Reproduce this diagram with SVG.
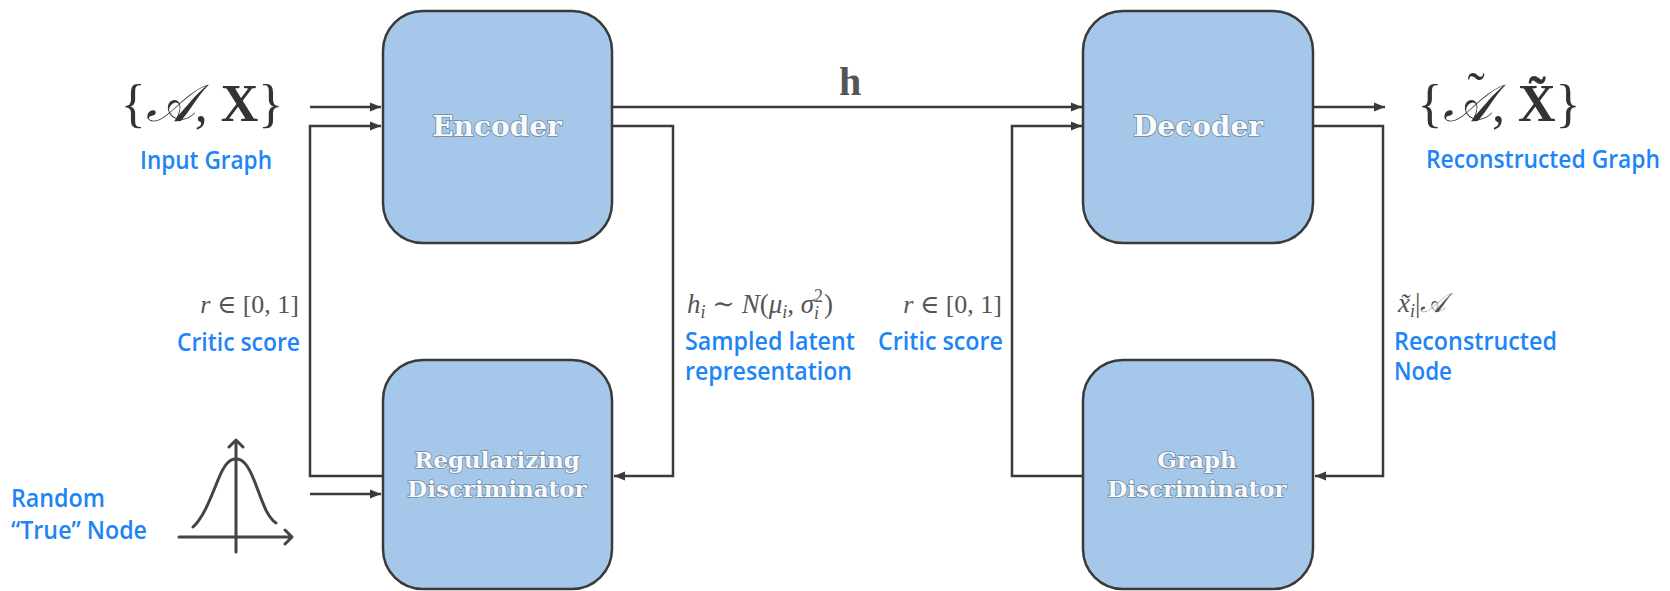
<svg xmlns="http://www.w3.org/2000/svg" width="1670" height="591" viewBox="0 0 1670 591">
<style>
.box{fill:#a5c8ea;stroke:#3a3a3a;stroke-width:2.5}
.nl{font-family:"DejaVu Serif",serif;font-weight:bold;fill:#f8fafc;stroke:#6d88a2;stroke-width:1.6;paint-order:stroke;text-anchor:middle}
.blue{font-family:"Open Sans","Noto Sans",sans-serif;font-weight:600;font-size:24.5px;fill:#1e85f6}
.math{font-family:"Liberation Serif","DejaVu Serif",serif;fill:#555}
.big{font-family:"Liberation Serif","DejaVu Serif",serif;fill:#333;font-size:52px}
.conn{fill:none;stroke:#3a3a3a;stroke-width:2.5}
.icon{fill:none;stroke:#444;stroke-width:3;stroke-linecap:round;stroke-linejoin:round}
</style>
<defs>
<marker id="ah" markerUnits="userSpaceOnUse" markerWidth="11" markerHeight="10" refX="11" refY="5" orient="auto">
<path d="M0,0.5 L11,5 L0,9.5 z" fill="#3a3a3a"/>
</marker>
</defs>
<rect width="1670" height="591" fill="#ffffff"/>

<g id="connectors">
<path class="conn" d="M310,107 H381" marker-end="url(#ah)"/>
<path class="conn" d="M383,476 H310 V126 H381" marker-end="url(#ah)"/>
<path class="conn" d="M310,494 H381" marker-end="url(#ah)"/>
<path class="conn" d="M612,126 H673 V476 H614" marker-end="url(#ah)"/>
<path class="conn" d="M612,107 H1082" marker-end="url(#ah)"/>
<path class="conn" d="M1083,476 H1012 V126 H1082" marker-end="url(#ah)"/>
<path class="conn" d="M1313,126 H1383 V476 H1315" marker-end="url(#ah)"/>
<path class="conn" d="M1313,107 H1385" marker-end="url(#ah)"/>
</g>

<g id="encoder">
<rect class="box" x="383" y="11" width="229" height="232" rx="40"/>
<text class="nl" x="497" y="136" font-size="28">Encoder</text>
</g>
<g id="decoder">
<rect class="box" x="1083" y="11" width="230" height="232" rx="40"/>
<text class="nl" x="1198" y="136" font-size="28">Decoder</text>
</g>
<g id="regularizing-discriminator">
<rect class="box" x="383" y="360" width="229" height="229" rx="40"/>
<text class="nl" x="497" y="468" font-size="23">Regularizing</text>
<text class="nl" x="497" y="497" font-size="23">Discriminator</text>
</g>
<g id="graph-discriminator">
<rect class="box" x="1083" y="360" width="230" height="229" rx="40"/>
<text class="nl" x="1197" y="468" font-size="23">Graph</text>
<text class="nl" x="1197" y="497" font-size="23">Discriminator</text>
</g>

<g id="input-graph">
<text class="big" x="202" y="121" text-anchor="middle">{<tspan font-style="italic">𝒜</tspan>, <tspan font-weight="bold">X</tspan>}</text>
<text class="blue" x="140" y="169" textLength="132" lengthAdjust="spacingAndGlyphs">Input Graph</text>
</g>

<g id="reconstructed-graph">
<text class="big" x="1499" y="121" text-anchor="middle">{<tspan font-style="italic">𝒜</tspan><tspan dx="-24" dy="-12">˜</tspan><tspan dx="7" dy="12">, </tspan><tspan font-weight="bold">X̃</tspan>}</text>
<text class="blue" x="1426" y="168" font-size="22" textLength="234" lengthAdjust="spacingAndGlyphs">Reconstructed Graph</text>
</g>

<g id="random-true-node">
<path class="icon" d="M236,552 V440 M229,447 L236,440 L243,447 M179,537 H292 M285,530 L292,537 L285,544"/>
<path class="icon" d="M193,527 C203,518 210,500 218,480 C224,465 229,459 236,459 C243,459 248,465 254,480 C262,500 266,516 276,523"/>
<text class="blue" x="11" y="507" textLength="94" lengthAdjust="spacingAndGlyphs">Random</text>
<text class="blue" x="11" y="539" textLength="136" lengthAdjust="spacingAndGlyphs">“True” Node</text>
</g>

<g id="labels">
<text class="math" x="850" y="95" font-size="40" font-weight="bold" fill="#333" text-anchor="middle">h</text>
<text class="math" x="299" y="313" font-size="26" text-anchor="end"><tspan font-style="italic">r</tspan> ∈ [0, 1]</text>
<text class="blue" x="177" y="351" textLength="123" lengthAdjust="spacingAndGlyphs">Critic score</text>
<text class="math" x="687" y="313" font-size="27"><tspan font-style="italic">h</tspan><tspan font-size="18" font-style="italic" dy="5">i</tspan><tspan dy="-5"> ∼ </tspan><tspan font-style="italic">N</tspan>(<tspan font-style="italic">μ</tspan><tspan font-size="18" font-style="italic" dy="5">i</tspan><tspan dy="-5">, </tspan><tspan font-style="italic">σ</tspan><tspan font-size="18" dy="-11">2</tspan><tspan font-size="18" font-style="italic" dx="-9" dy="17">i</tspan><tspan dy="-6" dx="5">)</tspan></text>
<text class="blue" x="685" y="350" textLength="170" lengthAdjust="spacingAndGlyphs">Sampled latent</text>
<text class="blue" x="685" y="380" textLength="167" lengthAdjust="spacingAndGlyphs">representation</text>
<text class="math" x="1002" y="313" font-size="26" text-anchor="end"><tspan font-style="italic">r</tspan> ∈ [0, 1]</text>
<text class="blue" x="878" y="350" textLength="125" lengthAdjust="spacingAndGlyphs">Critic score</text>
<text class="math" x="1398" y="312" font-size="27"><tspan font-style="italic">x̃</tspan><tspan font-size="18" font-style="italic" dy="5">i</tspan><tspan dy="-5">|</tspan><tspan font-style="italic">𝒜</tspan></text>
<text class="blue" x="1394" y="350" textLength="163" lengthAdjust="spacingAndGlyphs">Reconstructed</text>
<text class="blue" x="1394" y="380" textLength="58" lengthAdjust="spacingAndGlyphs">Node</text>
</g>
</svg>
